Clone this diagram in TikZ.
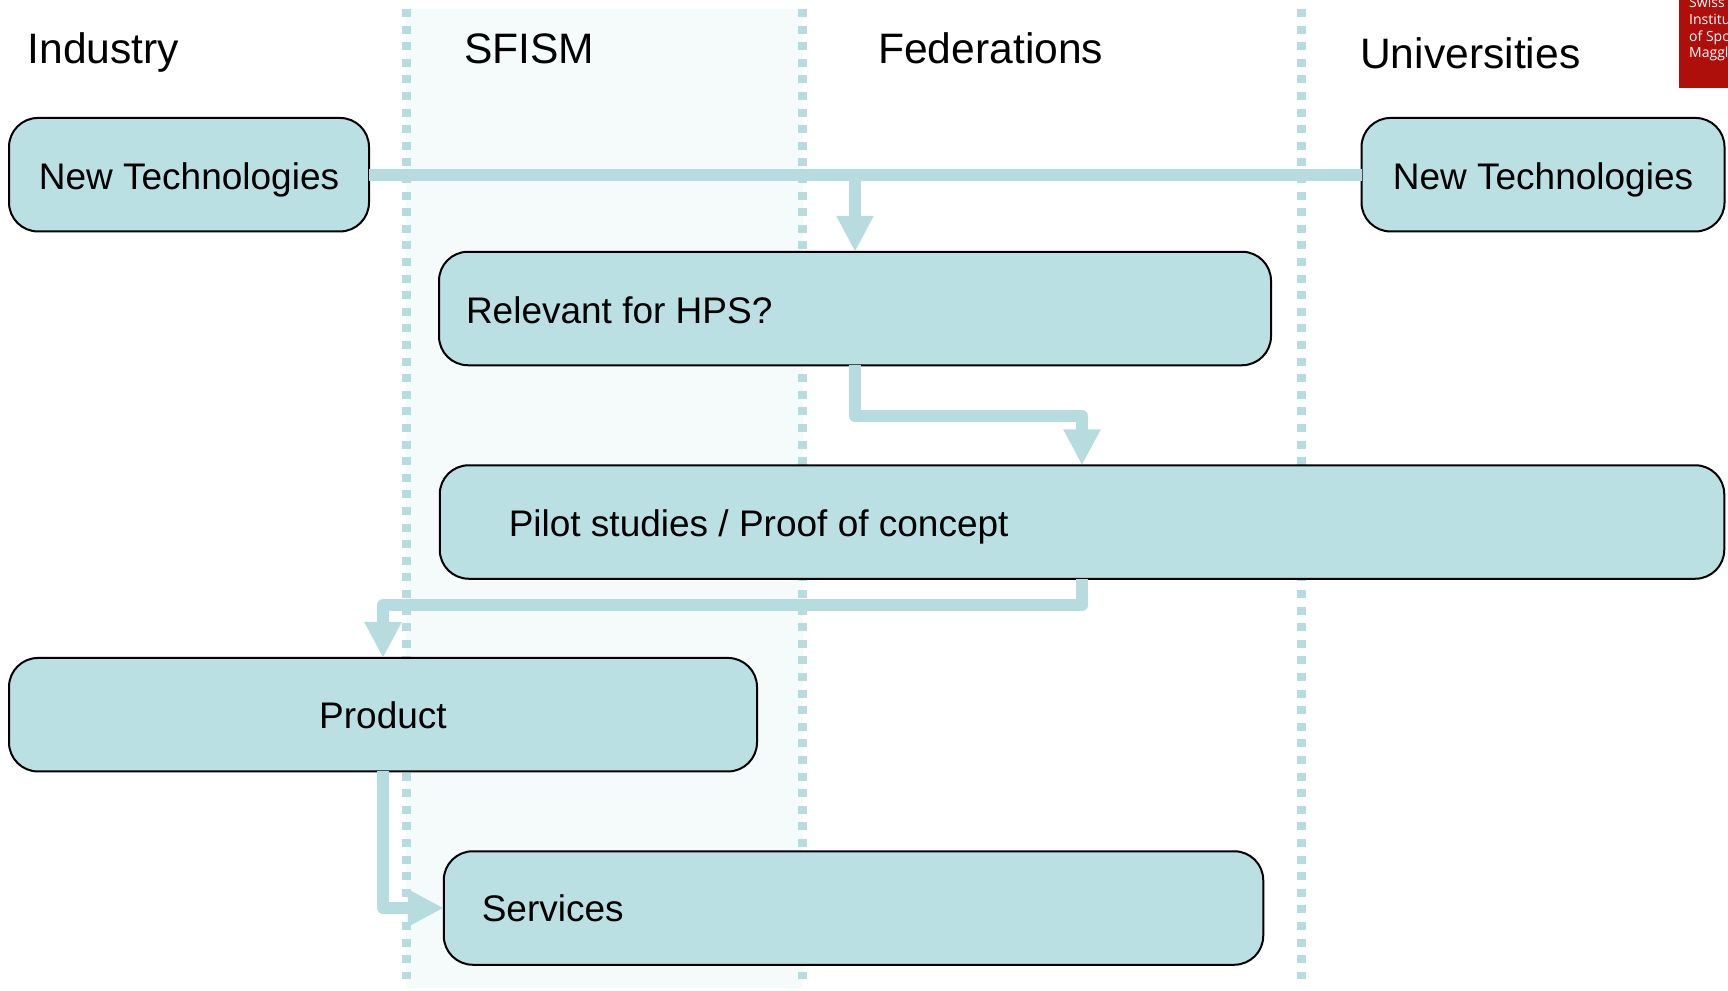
\documentclass[tikz,border=0pt]{standalone}
\usepackage{fontspec}
\setmainfont{Liberation Sans}
\newfontfamily\logofont{Open Sans}
\usetikzlibrary{arrows.meta,calc}
\definecolor{tealfill}{HTML}{BAE0E3}
\definecolor{teallink}{HTML}{B7DCE0}
\definecolor{bandfill}{HTML}{F5FBFB}
\definecolor{logored}{HTML}{AE0F0B}
\tikzset{
  x=1pt,y=-1pt,
  box/.style={draw=black,line width=2pt,fill=tealfill,rounded corners=29pt,outer sep=0pt,inner sep=0pt,font=\fontsize{37}{40}\selectfont,text=black,minimum height=113.5pt,text depth=0pt},
  leftbox/.style 2 args={box,minimum width=#1,text width=#1,align=flush left,text height=#2},
  header/.style={anchor=base west,inner sep=0pt,font=\fontsize{42.6}{46}\selectfont,text=black},
  divider/.style={draw=teallink,line width=8.7pt,dash pattern=on 8pt off 8.6pt},
  link/.style={draw=teallink,line width=12pt,line join=round,-{Triangle[length=36pt,width=35pt]}},
  bar/.style={draw=teallink,line width=12pt},
}
\begin{document}
\begin{tikzpicture}
\useasboundingbox (0,0) rectangle (1728,990);
\fill[white] (0,0) rectangle (1728,990);
\fill[bandfill] (406,9) rectangle (803,988);
\coordinate (d1a) at (406.7,9); \coordinate (d1b) at (406.7,979);
\coordinate (d2a) at (802.7,9); \coordinate (d2b) at (802.7,979);
\coordinate (d3a) at (1301.5,9); \coordinate (d3b) at (1301.5,979);
\draw[divider] (d1a) -- (d1b);
\draw[divider] (d2a) -- (d2b);
\draw[divider] (d3a) -- (d3b);
\fill[logored] (1679,0) rectangle (1728,88);
\node[anchor=north west,inner sep=0pt,align=flush left,text=white,font=\logofont\fontsize{14}{16.8}\selectfont] (logo) at (1689,-3) {Swiss\\Institu\\of Spo\\Maggl};
\node[header] (hind) at (27.5,63.8) {Industry};
\node[header] (hsf) at (464,63.8) {SFISM};
\node[header] (hfed) at (878,63.8) {Federations};
\node[header] (huni) at (1360,68.8) {Universities};
\node[box,minimum width=360pt,text height=30pt] (nt1) at (189,174.7) {New Technologies};
\node[box,minimum width=363pt,text height=30pt] (nt2) at (1543,174.7) {New Technologies};
\node[leftbox={832pt}{29.4pt}] (rel) at (855,308.5) {\hspace*{27pt}Relevant for HPS?};
\node[leftbox={1284.5pt}{29.4pt}] (pil) at (1082,522) {\hspace*{69pt}Pilot studies / Proof of concept};
\node[box,minimum width=748pt,text height=27pt] (prod) at (383,714.7) {Product};
\node[leftbox={819.5pt}{27pt}] (serv) at (853.5,908) {\hspace*{38pt}Services};
\draw[bar] (nt1.east) -- (nt2.west);
\coordinate (junction) at (rel.north |- nt1.east);
\draw[link] (junction) -- (rel.north);
\draw[link] (rel.south) -- ++(0,50.7) -| (pil.north);
\draw[link] (pil.south) -- ++(0,26.7) -| (prod.north);
\draw[link] (prod.south) |- (serv.west);
\end{tikzpicture}
\end{document}
